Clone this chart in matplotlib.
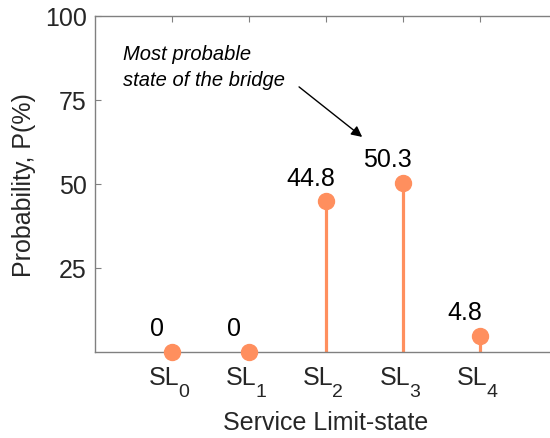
import matplotlib
matplotlib.use("Agg")
import matplotlib.pyplot as plt

plt.rcParams['font.family'] = ['Liberation Sans', 'DejaVu Sans']

state_names = ['SL', 'SL', 'SL', 'SL', 'SL']
state_subs = ['0', '1', '2', '3', '4']
positions = [1, 2, 3, 4, 5]
probability = [0, 0, 44.8, 50.3, 4.8]
value_labels = ['0', '0', '44.8', '50.3', '4.8']
y_ticks = [25, 50, 75, 100]

orange = '#FF8F5E'
gray = '#808080'
dark = '#262626'

fig = plt.figure(figsize=(5.5, 4.39), dpi=100)
ax = fig.add_axes([95/550, 86/439, 462/550, 336/439])

markerline, stemlines, baseline = ax.stem(positions, probability)
plt.setp(stemlines, color=orange, linewidth=2.3)
plt.setp(markerline, color=orange, marker='o', markersize=11.5, clip_on=False, zorder=5)
baseline.set_visible(False)

for x, y, lab in zip(positions, probability, value_labels):
    ax.text(x - 0.2, y + 7, lab, ha='center', va='center', fontsize=18, color='black')

# annotation text and arrow
ax.text(0.36, 85, 'Most probable\nstate of the bridge', ha='left', va='center',
        fontsize=14.5, style='italic', linespacing=1.45)
ax.annotate('', xy=(3.47, 64.0), xytext=(2.65, 78.9),
            arrowprops=dict(arrowstyle='-|>', color='black', lw=1, mutation_scale=16,
                            shrinkA=0, shrinkB=0))

ax.set_xlim(0, 6)
ax.set_ylim(0, 100)
ax.set_xticks(positions)
ax.set_xticklabels([])
ax.set_yticks(y_ticks)
ax.tick_params(direction='in', length=4, width=0.8, colors=gray, labelcolor=dark,
               labelsize=18, top=True, right=True, pad=6)
for s in ax.spines.values():
    s.set_color(gray)
    s.set_linewidth(1.0)

# x tick labels with MATLAB-like subscripts
for x, name, sub in zip(positions, state_names, state_subs):
    ax.annotate(name, xy=(x, 0), xycoords=('data', 'axes fraction'),
                xytext=(5, -18), textcoords='offset points',
                ha='right', va='center', fontsize=18, color=dark)
    ax.annotate(sub, xy=(x, 0), xycoords=('data', 'axes fraction'),
                xytext=(4.5, -28.5), textcoords='offset points',
                ha='left', va='center', fontsize=14, color=dark)

ax.set_xlabel('Service Limit-state', fontsize=18, color=dark)
ax.xaxis.label.set_va('center')
ax.xaxis.set_label_coords(0.5, -0.208)
ax.set_ylabel('Probability, P(%)', fontsize=18, color=dark, labelpad=6)

fig.savefig('out.png', dpi=100)
